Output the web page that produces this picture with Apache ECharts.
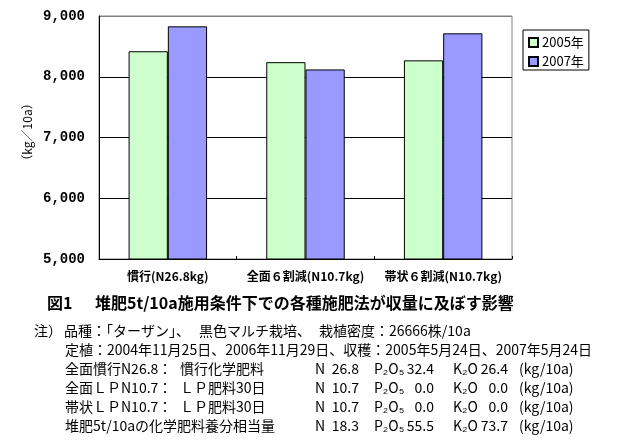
<!DOCTYPE html>
<html><head><meta charset="utf-8">
<script src="https://cdn.jsdelivr.net/npm/echarts@6/dist/echarts.min.js"></script>
<style>html,body{margin:0;padding:0;background:#fff}#c{width:625px;height:447px}</style>
</head><body><div id="c"></div>
<script>
// ---- data ----
const categories = ['慣行(N26.8kg)', '全面６割減(N10.7kg)', '帯状６割減(N10.7kg)'];
const seriesNames = ['2005年', '2007年'];
const yield2005 = [8420, 8240, 8270];
const yield2007 = [8830, 8120, 8715];
const yMin = 5000, yMax = 9000, yStep = 1000;
const yAxisName = '（kg／10a）';
const figTitleHead = '図1';
const figTitleBody = '堆肥5t/10a施用条件下での各種施肥法が収量に及ぼす影響';
const noteHead = '注）';
const noteLine1Parts = ['品種：「ターザン」、', '黒色マルチ栽培、', '栽植密度：26666株/10a'];
const noteLine2 = '定植：2004年11月25日、2006年11月29日、収穫：2005年5月24日、2007年5月24日';
const rowLabels = ['全面慣行N26.8', '全面ＬＰN10.7', '帯状ＬＰN10.7', '堆肥5t/10aの化学肥料養分相当量'];
const rowColon = ['：', '：', '：', ''];
const rowDesc = ['慣行化学肥料', 'ＬＰ肥料30日', 'ＬＰ肥料30日', ''];
const rowN = ['26.8', '10.7', '10.7', '18.3'];
const rowP = ['32.4', '0.0', '0.0', '55.5'];
const rowK = ['26.4', '0.0', '0.0', '73.7'];
const unitText = '(kg/10a)';

// ---- layout ----
const JP = "'Noto Sans CJK JP', sans-serif";
const noteFont = '14px ' + JP;
const g = [];
function txt(x, y, text, font, align) {
  g.push({type: 'text', x: x, y: y, silent: true,
    style: {text: text, font: font, fill: '#000', textAlign: align || 'left', textVerticalAlign: 'middle', verticalAlign: 'middle'}});
}
// y-axis name (rotated)
g.push({type: 'text', x: 27, y: 132, rotation: Math.PI / 2, silent: true,
  style: {text: yAxisName, font: '12px ' + JP, fill: '#000', textAlign: 'center', textVerticalAlign: 'middle', verticalAlign: 'middle'}});
txt(47, 303, figTitleHead, 'bold 16px ' + JP);
txt(95, 303, figTitleBody, 'bold 16px ' + JP);
const lineY = [331, 350, 369, 388, 407, 426];
txt(34, lineY[0], noteHead, noteFont);
const line1X = [64, 199, 319];
noteLine1Parts.forEach((p, i) => txt(line1X[i], lineY[0], p, noteFont));
txt(65, lineY[1], noteLine2, noteFont);
rowLabels.forEach((lab, i) => {
  const y = lineY[i + 2];
  txt(65, y, lab, noteFont);
  txt(158, y, rowColon[i], noteFont);
  txt(180, y, rowDesc[i], noteFont);
  txt(315, y, 'N', noteFont);
  txt(359, y, rowN[i], noteFont, 'right');
  txt(374, y, 'P₂O₅', noteFont);
  txt(434, y, rowP[i], noteFont, 'right');
  txt(453, y, 'K₂O', noteFont);
  txt(508, y, rowK[i], noteFont, 'right');
  txt(519, y, unitText, noteFont);
});

const chart = echarts.init(document.getElementById('c'), null, {renderer: 'canvas'});
chart.setOption({
  animation: false,
  backgroundColor: '#fff',
  grid: {left: 99, right: 113, top: 16, bottom: 188, show: true, borderColor: '#808080', borderWidth: 1, backgroundColor: 'transparent'},
  legend: {
    orient: 'vertical', left: 523, top: 30,
    data: seriesNames,
    itemWidth: 9, itemHeight: 9, itemGap: 6,
    padding: [6, 5, 2, 5],
    borderColor: '#000', borderWidth: 1, backgroundColor: '#fff',
    textStyle: {fontFamily: JP, fontSize: 13, color: '#000', padding: [0, 0, 0, -1]},
    icon: 'rect'
  },
  xAxis: {
    type: 'category', data: categories,
    axisLine: {lineStyle: {color: '#000', width: 1}},
    axisTick: {show: true, inside: true, length: 3, lineStyle: {color: '#000'}},
    axisLabel: {color: '#000', fontFamily: JP, fontWeight: 'bold', fontSize: 12, margin: 11, interval: 0}
  },
  yAxis: {
    type: 'value', min: yMin, max: yMax, interval: yStep,
    axisLine: {show: true, lineStyle: {color: '#000', width: 1}},
    axisTick: {show: false},
    splitLine: {show: true, lineStyle: {color: ['#000', '#000', '#000', '#000', '#808080'], width: 1}},
    axisLabel: {color: '#000', fontFamily: "'Liberation Mono', monospace", fontWeight: 'bold', fontSize: 14, margin: 14,
      formatter: v => v.toLocaleString('en-US')}
  },
  series: [
    {name: seriesNames[0], type: 'bar', data: yield2005, barGap: '0%', barCategoryGap: '43%',
      itemStyle: {color: '#CCFFCC', borderColor: '#000', borderWidth: 1}},
    {name: seriesNames[1], type: 'bar', data: yield2007, barGap: '0%', barCategoryGap: '43%',
      itemStyle: {color: '#9999FF', borderColor: '#000', borderWidth: 1}}
  ],
  graphic: g
});
</script></body></html>
